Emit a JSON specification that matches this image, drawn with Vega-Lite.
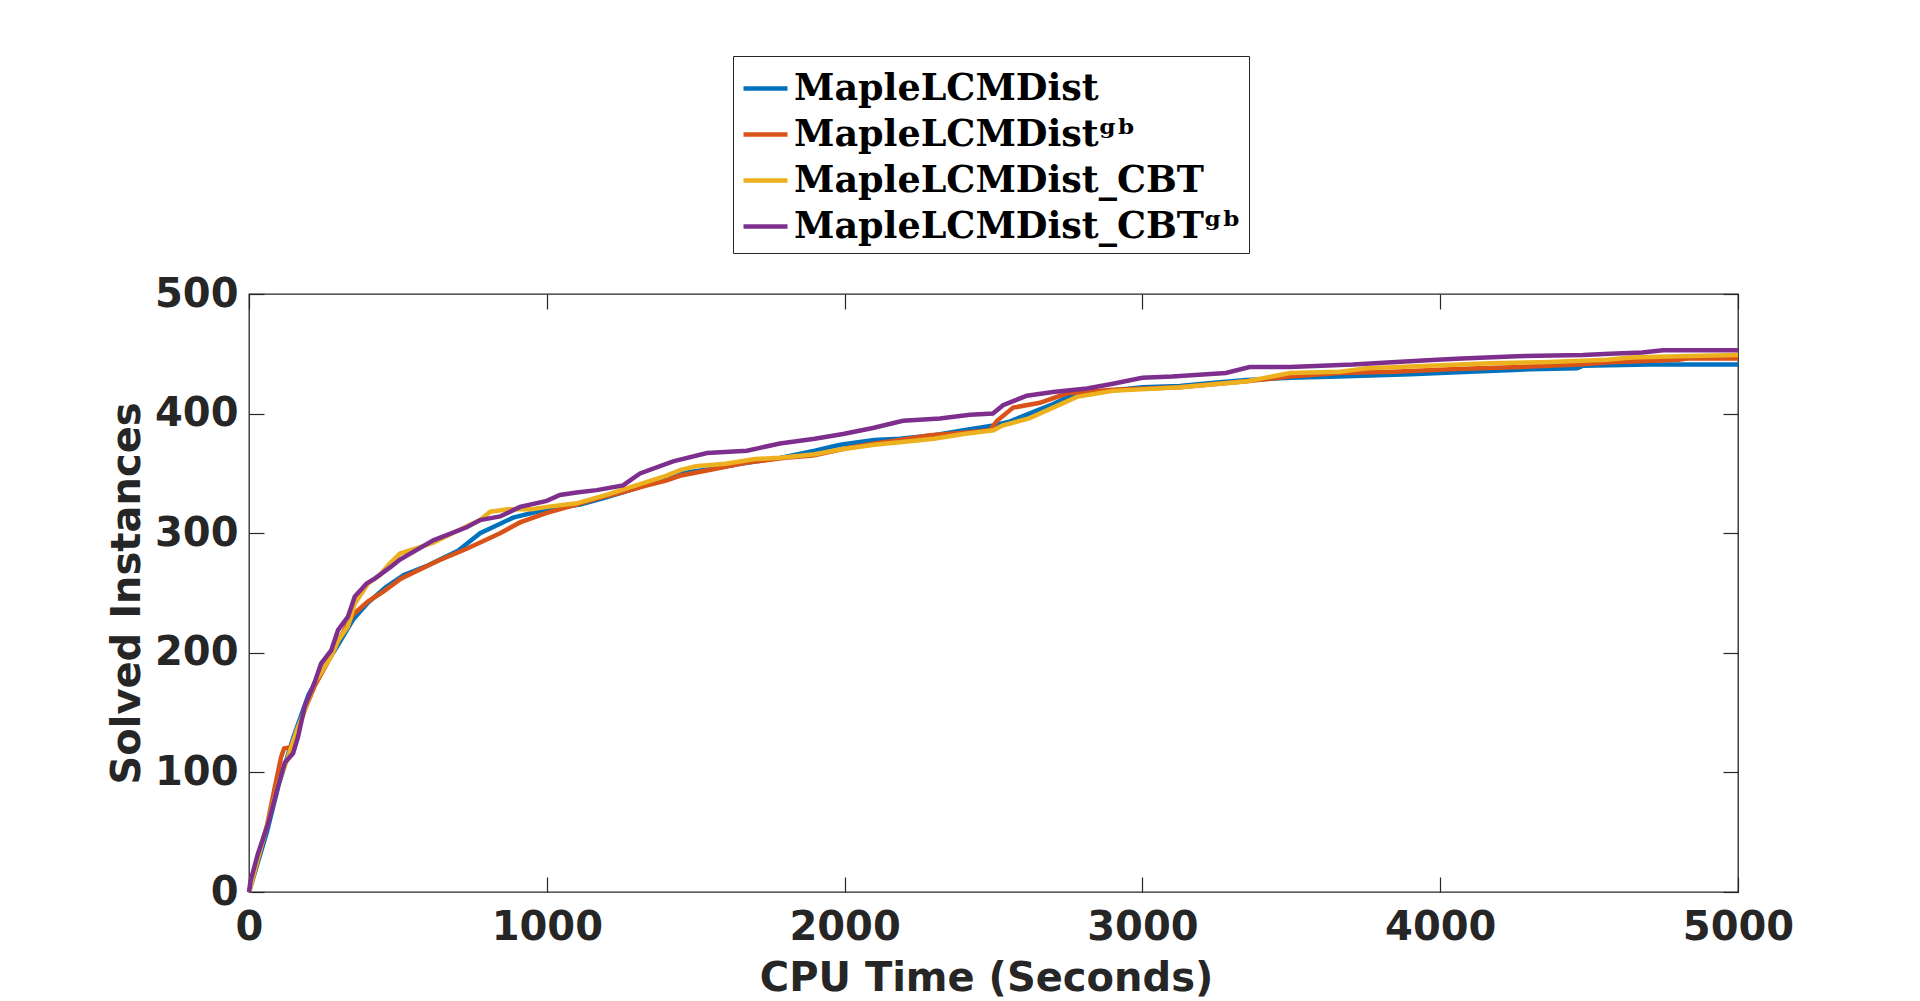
{
  "$schema": "https://vega.github.io/schema/vega-lite/v6.json",
  "autosize": {"type": "none"},
  "width": 1489,
  "height": 598,
  "padding": {"left": 249, "top": 294, "right": 182, "bottom": 109},
  "background": "white",
  "config": {
    "view": {"stroke": "#262626", "strokeWidth": 1.3},
    "axis": {
      "grid": false,
      "domain": false,
      "ticks": true,
      "tickSize": -15,
      "tickColor": "#262626",
      "tickWidth": 1.2,
      "format": "d",
      "labelFont": "DejaVu Sans",
      "labelFontWeight": "bold",
      "labelFontSize": 40,
      "labelColor": "#262626",
      "titleFont": "DejaVu Sans",
      "titleFontWeight": "bold",
      "titleFontSize": 40,
      "titleColor": "#262626"
    }
  },
  "datasets": {
    "runs": [
      {"solver": "MapleLCMDist", "time": 0, "solved": 0},
      {"solver": "MapleLCMDist", "time": 30, "solved": 25},
      {"solver": "MapleLCMDist", "time": 60, "solved": 50},
      {"solver": "MapleLCMDist", "time": 100, "solved": 90},
      {"solver": "MapleLCMDist", "time": 150, "solved": 130},
      {"solver": "MapleLCMDist", "time": 200, "solved": 165},
      {"solver": "MapleLCMDist", "time": 250, "solved": 187},
      {"solver": "MapleLCMDist", "time": 300, "solved": 207},
      {"solver": "MapleLCMDist", "time": 350, "solved": 228},
      {"solver": "MapleLCMDist", "time": 400, "solved": 242},
      {"solver": "MapleLCMDist", "time": 460, "solved": 255},
      {"solver": "MapleLCMDist", "time": 520, "solved": 265},
      {"solver": "MapleLCMDist", "time": 600, "solved": 273},
      {"solver": "MapleLCMDist", "time": 700, "solved": 285},
      {"solver": "MapleLCMDist", "time": 776, "solved": 300},
      {"solver": "MapleLCMDist", "time": 887, "solved": 313},
      {"solver": "MapleLCMDist", "time": 1000, "solved": 320},
      {"solver": "MapleLCMDist", "time": 1112, "solved": 324},
      {"solver": "MapleLCMDist", "time": 1200, "solved": 330},
      {"solver": "MapleLCMDist", "time": 1280, "solved": 336},
      {"solver": "MapleLCMDist", "time": 1350, "solved": 342},
      {"solver": "MapleLCMDist", "time": 1447, "solved": 350},
      {"solver": "MapleLCMDist", "time": 1558, "solved": 354},
      {"solver": "MapleLCMDist", "time": 1650, "solved": 358},
      {"solver": "MapleLCMDist", "time": 1783, "solved": 363},
      {"solver": "MapleLCMDist", "time": 1900, "solved": 369},
      {"solver": "MapleLCMDist", "time": 1985, "solved": 374},
      {"solver": "MapleLCMDist", "time": 2100, "solved": 378},
      {"solver": "MapleLCMDist", "time": 2186, "solved": 379},
      {"solver": "MapleLCMDist", "time": 2300, "solved": 382},
      {"solver": "MapleLCMDist", "time": 2400, "solved": 386},
      {"solver": "MapleLCMDist", "time": 2500, "solved": 390},
      {"solver": "MapleLCMDist", "time": 2550, "solved": 393},
      {"solver": "MapleLCMDist", "time": 2620, "solved": 400},
      {"solver": "MapleLCMDist", "time": 2700, "solved": 408},
      {"solver": "MapleLCMDist", "time": 2760, "solved": 415},
      {"solver": "MapleLCMDist", "time": 2850, "solved": 418},
      {"solver": "MapleLCMDist", "time": 3000, "solved": 422},
      {"solver": "MapleLCMDist", "time": 3126, "solved": 423},
      {"solver": "MapleLCMDist", "time": 3250, "solved": 426},
      {"solver": "MapleLCMDist", "time": 3351, "solved": 428},
      {"solver": "MapleLCMDist", "time": 3496, "solved": 430},
      {"solver": "MapleLCMDist", "time": 3657, "solved": 431},
      {"solver": "MapleLCMDist", "time": 3900, "solved": 433},
      {"solver": "MapleLCMDist", "time": 4100, "solved": 435},
      {"solver": "MapleLCMDist", "time": 4300, "solved": 437},
      {"solver": "MapleLCMDist", "time": 4460, "solved": 438},
      {"solver": "MapleLCMDist", "time": 4480, "solved": 440},
      {"solver": "MapleLCMDist", "time": 4700, "solved": 441},
      {"solver": "MapleLCMDist", "time": 5000, "solved": 441},

      {"solver": "MapleLCMDistᵍᵇ", "time": 0, "solved": 0},
      {"solver": "MapleLCMDistᵍᵇ", "time": 30, "solved": 28},
      {"solver": "MapleLCMDistᵍᵇ", "time": 60, "solved": 55},
      {"solver": "MapleLCMDistᵍᵇ", "time": 87, "solved": 88},
      {"solver": "MapleLCMDistᵍᵇ", "time": 108, "solved": 113},
      {"solver": "MapleLCMDistᵍᵇ", "time": 118, "solved": 120},
      {"solver": "MapleLCMDistᵍᵇ", "time": 140, "solved": 121},
      {"solver": "MapleLCMDistᵍᵇ", "time": 160, "solved": 133},
      {"solver": "MapleLCMDistᵍᵇ", "time": 187, "solved": 152},
      {"solver": "MapleLCMDistᵍᵇ", "time": 220, "solved": 172},
      {"solver": "MapleLCMDistᵍᵇ", "time": 262, "solved": 191},
      {"solver": "MapleLCMDistᵍᵇ", "time": 300, "solved": 210},
      {"solver": "MapleLCMDistᵍᵇ", "time": 350, "solved": 232},
      {"solver": "MapleLCMDistᵍᵇ", "time": 400, "solved": 243},
      {"solver": "MapleLCMDistᵍᵇ", "time": 450, "solved": 251},
      {"solver": "MapleLCMDistᵍᵇ", "time": 510, "solved": 262},
      {"solver": "MapleLCMDistᵍᵇ", "time": 560, "solved": 268},
      {"solver": "MapleLCMDistᵍᵇ", "time": 635, "solved": 277},
      {"solver": "MapleLCMDistᵍᵇ", "time": 731, "solved": 287},
      {"solver": "MapleLCMDistᵍᵇ", "time": 800, "solved": 295},
      {"solver": "MapleLCMDistᵍᵇ", "time": 843, "solved": 300},
      {"solver": "MapleLCMDistᵍᵇ", "time": 910, "solved": 309},
      {"solver": "MapleLCMDistᵍᵇ", "time": 1000, "solved": 317},
      {"solver": "MapleLCMDistᵍᵇ", "time": 1100, "solved": 324},
      {"solver": "MapleLCMDistᵍᵇ", "time": 1168, "solved": 329},
      {"solver": "MapleLCMDistᵍᵇ", "time": 1250, "solved": 334},
      {"solver": "MapleLCMDistᵍᵇ", "time": 1337, "solved": 340},
      {"solver": "MapleLCMDistᵍᵇ", "time": 1400, "solved": 344},
      {"solver": "MapleLCMDistᵍᵇ", "time": 1447, "solved": 348},
      {"solver": "MapleLCMDistᵍᵇ", "time": 1550, "solved": 353},
      {"solver": "MapleLCMDistᵍᵇ", "time": 1672, "solved": 359},
      {"solver": "MapleLCMDistᵍᵇ", "time": 1800, "solved": 363},
      {"solver": "MapleLCMDistᵍᵇ", "time": 1894, "solved": 365},
      {"solver": "MapleLCMDistᵍᵇ", "time": 2008, "solved": 371},
      {"solver": "MapleLCMDistᵍᵇ", "time": 2100, "solved": 375},
      {"solver": "MapleLCMDistᵍᵇ", "time": 2186, "solved": 378},
      {"solver": "MapleLCMDistᵍᵇ", "time": 2287, "solved": 382},
      {"solver": "MapleLCMDistᵍᵇ", "time": 2400, "solved": 384},
      {"solver": "MapleLCMDistᵍᵇ", "time": 2488, "solved": 386},
      {"solver": "MapleLCMDistᵍᵇ", "time": 2512, "solved": 394},
      {"solver": "MapleLCMDistᵍᵇ", "time": 2566, "solved": 405},
      {"solver": "MapleLCMDistᵍᵇ", "time": 2656, "solved": 409},
      {"solver": "MapleLCMDistᵍᵇ", "time": 2747, "solved": 417},
      {"solver": "MapleLCMDistᵍᵇ", "time": 2901, "solved": 420},
      {"solver": "MapleLCMDistᵍᵇ", "time": 3126, "solved": 422},
      {"solver": "MapleLCMDistᵍᵇ", "time": 3351, "solved": 427},
      {"solver": "MapleLCMDistᵍᵇ", "time": 3496, "solved": 431},
      {"solver": "MapleLCMDistᵍᵇ", "time": 3660, "solved": 434},
      {"solver": "MapleLCMDistᵍᵇ", "time": 3841, "solved": 435},
      {"solver": "MapleLCMDistᵍᵇ", "time": 4033, "solved": 437},
      {"solver": "MapleLCMDistᵍᵇ", "time": 4130, "solved": 438},
      {"solver": "MapleLCMDistᵍᵇ", "time": 4265, "solved": 439},
      {"solver": "MapleLCMDistᵍᵇ", "time": 4467, "solved": 441},
      {"solver": "MapleLCMDistᵍᵇ", "time": 4570, "solved": 443},
      {"solver": "MapleLCMDistᵍᵇ", "time": 4800, "solved": 445},
      {"solver": "MapleLCMDistᵍᵇ", "time": 4830, "solved": 446},
      {"solver": "MapleLCMDistᵍᵇ", "time": 5000, "solved": 446},

      {"solver": "MapleLCMDist_CBT", "time": 0, "solved": 0},
      {"solver": "MapleLCMDist_CBT", "time": 30, "solved": 28},
      {"solver": "MapleLCMDist_CBT", "time": 60, "solved": 55},
      {"solver": "MapleLCMDist_CBT", "time": 100, "solved": 92},
      {"solver": "MapleLCMDist_CBT", "time": 130, "solved": 112},
      {"solver": "MapleLCMDist_CBT", "time": 160, "solved": 135},
      {"solver": "MapleLCMDist_CBT", "time": 187, "solved": 152},
      {"solver": "MapleLCMDist_CBT", "time": 220, "solved": 175},
      {"solver": "MapleLCMDist_CBT", "time": 276, "solved": 197},
      {"solver": "MapleLCMDist_CBT", "time": 299, "solved": 210},
      {"solver": "MapleLCMDist_CBT", "time": 332, "solved": 222},
      {"solver": "MapleLCMDist_CBT", "time": 355, "solved": 241},
      {"solver": "MapleLCMDist_CBT", "time": 400, "solved": 258},
      {"solver": "MapleLCMDist_CBT", "time": 440, "solved": 265},
      {"solver": "MapleLCMDist_CBT", "time": 470, "solved": 274},
      {"solver": "MapleLCMDist_CBT", "time": 507, "solved": 283},
      {"solver": "MapleLCMDist_CBT", "time": 619, "solved": 292},
      {"solver": "MapleLCMDist_CBT", "time": 700, "solved": 302},
      {"solver": "MapleLCMDist_CBT", "time": 776, "solved": 311},
      {"solver": "MapleLCMDist_CBT", "time": 810, "solved": 318},
      {"solver": "MapleLCMDist_CBT", "time": 870, "solved": 320},
      {"solver": "MapleLCMDist_CBT", "time": 950, "solved": 320},
      {"solver": "MapleLCMDist_CBT", "time": 1000, "solved": 322},
      {"solver": "MapleLCMDist_CBT", "time": 1100, "solved": 325},
      {"solver": "MapleLCMDist_CBT", "time": 1200, "solved": 332},
      {"solver": "MapleLCMDist_CBT", "time": 1300, "solved": 340},
      {"solver": "MapleLCMDist_CBT", "time": 1400, "solved": 348},
      {"solver": "MapleLCMDist_CBT", "time": 1450, "solved": 353},
      {"solver": "MapleLCMDist_CBT", "time": 1500, "solved": 356},
      {"solver": "MapleLCMDist_CBT", "time": 1600, "solved": 358},
      {"solver": "MapleLCMDist_CBT", "time": 1700, "solved": 362},
      {"solver": "MapleLCMDist_CBT", "time": 1783, "solved": 363},
      {"solver": "MapleLCMDist_CBT", "time": 1900, "solved": 366},
      {"solver": "MapleLCMDist_CBT", "time": 1985, "solved": 370},
      {"solver": "MapleLCMDist_CBT", "time": 2100, "solved": 374},
      {"solver": "MapleLCMDist_CBT", "time": 2186, "solved": 376},
      {"solver": "MapleLCMDist_CBT", "time": 2300, "solved": 379},
      {"solver": "MapleLCMDist_CBT", "time": 2400, "solved": 383},
      {"solver": "MapleLCMDist_CBT", "time": 2500, "solved": 386},
      {"solver": "MapleLCMDist_CBT", "time": 2530, "solved": 390},
      {"solver": "MapleLCMDist_CBT", "time": 2620, "solved": 396},
      {"solver": "MapleLCMDist_CBT", "time": 2700, "solved": 405},
      {"solver": "MapleLCMDist_CBT", "time": 2780, "solved": 414},
      {"solver": "MapleLCMDist_CBT", "time": 2900, "solved": 419},
      {"solver": "MapleLCMDist_CBT", "time": 3126, "solved": 422},
      {"solver": "MapleLCMDist_CBT", "time": 3351, "solved": 427},
      {"solver": "MapleLCMDist_CBT", "time": 3496, "solved": 434},
      {"solver": "MapleLCMDist_CBT", "time": 3664, "solved": 435},
      {"solver": "MapleLCMDist_CBT", "time": 3754, "solved": 438},
      {"solver": "MapleLCMDist_CBT", "time": 3966, "solved": 440},
      {"solver": "MapleLCMDist_CBT", "time": 4167, "solved": 442},
      {"solver": "MapleLCMDist_CBT", "time": 4345, "solved": 443},
      {"solver": "MapleLCMDist_CBT", "time": 4560, "solved": 445},
      {"solver": "MapleLCMDist_CBT", "time": 4640, "solved": 447},
      {"solver": "MapleLCMDist_CBT", "time": 4800, "solved": 448},
      {"solver": "MapleLCMDist_CBT", "time": 5000, "solved": 449},

      {"solver": "MapleLCMDist_CBTᵍᵇ", "time": 0, "solved": 0},
      {"solver": "MapleLCMDist_CBTᵍᵇ", "time": 5, "solved": 9},
      {"solver": "MapleLCMDist_CBTᵍᵇ", "time": 30, "solved": 32},
      {"solver": "MapleLCMDist_CBTᵍᵇ", "time": 64, "solved": 57},
      {"solver": "MapleLCMDist_CBTᵍᵇ", "time": 97, "solved": 88},
      {"solver": "MapleLCMDist_CBTᵍᵇ", "time": 120, "solved": 108},
      {"solver": "MapleLCMDist_CBTᵍᵇ", "time": 148, "solved": 116},
      {"solver": "MapleLCMDist_CBTᵍᵇ", "time": 165, "solved": 130},
      {"solver": "MapleLCMDist_CBTᵍᵇ", "time": 187, "solved": 155},
      {"solver": "MapleLCMDist_CBTᵍᵇ", "time": 220, "solved": 175},
      {"solver": "MapleLCMDist_CBTᵍᵇ", "time": 242, "solved": 191},
      {"solver": "MapleLCMDist_CBTᵍᵇ", "time": 276, "solved": 202},
      {"solver": "MapleLCMDist_CBTᵍᵇ", "time": 299, "solved": 219},
      {"solver": "MapleLCMDist_CBTᵍᵇ", "time": 332, "solved": 230},
      {"solver": "MapleLCMDist_CBTᵍᵇ", "time": 355, "solved": 247},
      {"solver": "MapleLCMDist_CBTᵍᵇ", "time": 395, "solved": 258},
      {"solver": "MapleLCMDist_CBTᵍᵇ", "time": 422, "solved": 262},
      {"solver": "MapleLCMDist_CBTᵍᵇ", "time": 477, "solved": 272},
      {"solver": "MapleLCMDist_CBTᵍᵇ", "time": 507, "solved": 278},
      {"solver": "MapleLCMDist_CBTᵍᵇ", "time": 619, "solved": 294},
      {"solver": "MapleLCMDist_CBTᵍᵇ", "time": 731, "solved": 305},
      {"solver": "MapleLCMDist_CBTᵍᵇ", "time": 776, "solved": 311},
      {"solver": "MapleLCMDist_CBTᵍᵇ", "time": 843, "solved": 314},
      {"solver": "MapleLCMDist_CBTᵍᵇ", "time": 910, "solved": 322},
      {"solver": "MapleLCMDist_CBTᵍᵇ", "time": 1000, "solved": 327},
      {"solver": "MapleLCMDist_CBTᵍᵇ", "time": 1044, "solved": 332},
      {"solver": "MapleLCMDist_CBTᵍᵇ", "time": 1100, "solved": 334},
      {"solver": "MapleLCMDist_CBTᵍᵇ", "time": 1168, "solved": 336},
      {"solver": "MapleLCMDist_CBTᵍᵇ", "time": 1256, "solved": 340},
      {"solver": "MapleLCMDist_CBTᵍᵇ", "time": 1313, "solved": 350},
      {"solver": "MapleLCMDist_CBTᵍᵇ", "time": 1424, "solved": 360},
      {"solver": "MapleLCMDist_CBTᵍᵇ", "time": 1538, "solved": 367},
      {"solver": "MapleLCMDist_CBTᵍᵇ", "time": 1672, "solved": 369},
      {"solver": "MapleLCMDist_CBTᵍᵇ", "time": 1783, "solved": 375},
      {"solver": "MapleLCMDist_CBTᵍᵇ", "time": 1900, "solved": 379},
      {"solver": "MapleLCMDist_CBTᵍᵇ", "time": 1995, "solved": 383},
      {"solver": "MapleLCMDist_CBTᵍᵇ", "time": 2095, "solved": 388},
      {"solver": "MapleLCMDist_CBTᵍᵇ", "time": 2196, "solved": 394},
      {"solver": "MapleLCMDist_CBTᵍᵇ", "time": 2320, "solved": 396},
      {"solver": "MapleLCMDist_CBTᵍᵇ", "time": 2421, "solved": 399},
      {"solver": "MapleLCMDist_CBTᵍᵇ", "time": 2498, "solved": 400},
      {"solver": "MapleLCMDist_CBTᵍᵇ", "time": 2532, "solved": 407},
      {"solver": "MapleLCMDist_CBTᵍᵇ", "time": 2612, "solved": 415},
      {"solver": "MapleLCMDist_CBTᵍᵇ", "time": 2700, "solved": 418},
      {"solver": "MapleLCMDist_CBTᵍᵇ", "time": 2814, "solved": 421},
      {"solver": "MapleLCMDist_CBTᵍᵇ", "time": 2901, "solved": 425},
      {"solver": "MapleLCMDist_CBTᵍᵇ", "time": 3000, "solved": 430},
      {"solver": "MapleLCMDist_CBTᵍᵇ", "time": 3100, "solved": 431},
      {"solver": "MapleLCMDist_CBTᵍᵇ", "time": 3280, "solved": 434},
      {"solver": "MapleLCMDist_CBTᵍᵇ", "time": 3360, "solved": 439},
      {"solver": "MapleLCMDist_CBTᵍᵇ", "time": 3496, "solved": 439},
      {"solver": "MapleLCMDist_CBTᵍᵇ", "time": 3707, "solved": 441},
      {"solver": "MapleLCMDist_CBTᵍᵇ", "time": 3838, "solved": 443},
      {"solver": "MapleLCMDist_CBTᵍᵇ", "time": 3989, "solved": 445},
      {"solver": "MapleLCMDist_CBTᵍᵇ", "time": 4073, "solved": 446},
      {"solver": "MapleLCMDist_CBTᵍᵇ", "time": 4258, "solved": 448},
      {"solver": "MapleLCMDist_CBTᵍᵇ", "time": 4480, "solved": 449},
      {"solver": "MapleLCMDist_CBTᵍᵇ", "time": 4570, "solved": 450},
      {"solver": "MapleLCMDist_CBTᵍᵇ", "time": 4678, "solved": 451},
      {"solver": "MapleLCMDist_CBTᵍᵇ", "time": 4748, "solved": 453},
      {"solver": "MapleLCMDist_CBTᵍᵇ", "time": 5000, "solved": 453}
    ]
  },
  "data": {"name": "runs"},
  "layer": [
    {
      "mark": {"type": "line", "strokeWidth": 4.5, "interpolate": "linear"},
      "encoding": {
        "x": {
          "field": "time", "type": "quantitative",
          "scale": {"domain": [0, 5000], "nice": false, "zero": false},
          "axis": {"orient": "bottom", "values": [0, 1000, 2000, 3000, 4000, 5000], "title": "CPU Time (Seconds)", "labelPadding": 30, "titlePadding": 11, "titleX": 737, "labelFlush": false}
        },
        "y": {
          "field": "solved", "type": "quantitative",
          "scale": {"domain": [0, 500], "nice": false},
          "axis": {"orient": "left", "values": [0, 100, 200, 300, 400, 500], "title": "Solved Instances", "labelPadding": 26, "titlePadding": 7, "labelFlush": false}
        },
        "color": {
          "field": "solver", "type": "nominal",
          "scale": {
            "domain": ["MapleLCMDist", "MapleLCMDistᵍᵇ", "MapleLCMDist_CBT", "MapleLCMDist_CBTᵍᵇ"],
            "range": ["#0072BD", "#D95319", "#EDB120", "#7E2F8E"]
          },
          "legend": {
            "orient": "none",
            "legendX": 484,
            "legendY": -238,
            "title": null,
            "symbolType": "stroke",
            "symbolSize": 1936,
            "symbolStrokeWidth": 4.5,
            "labelFont": "DejaVu Serif",
            "labelFontWeight": "bold",
            "labelFontSize": 36.5,
            "labelColor": "black",
            "labelOffset": 4,
            "labelLimit": 1000,
            "rowPadding": 3,
            "padding": 8,
            "strokeColor": "#262626",
            "fillColor": "white"
          }
        }
      }
    },
    {
      "mark": {"type": "point", "opacity": 0},
      "encoding": {
        "x": {
          "field": "time", "type": "quantitative",
          "axis": {"orient": "top", "values": [0, 1000, 2000, 3000, 4000, 5000], "labels": false, "title": null}
        },
        "y": {
          "field": "solved", "type": "quantitative",
          "axis": {"orient": "right", "values": [0, 100, 200, 300, 400, 500], "labels": false, "title": null}
        }
      }
    }
  ],
  "resolve": {"axis": {"x": "independent", "y": "independent"}}
}
